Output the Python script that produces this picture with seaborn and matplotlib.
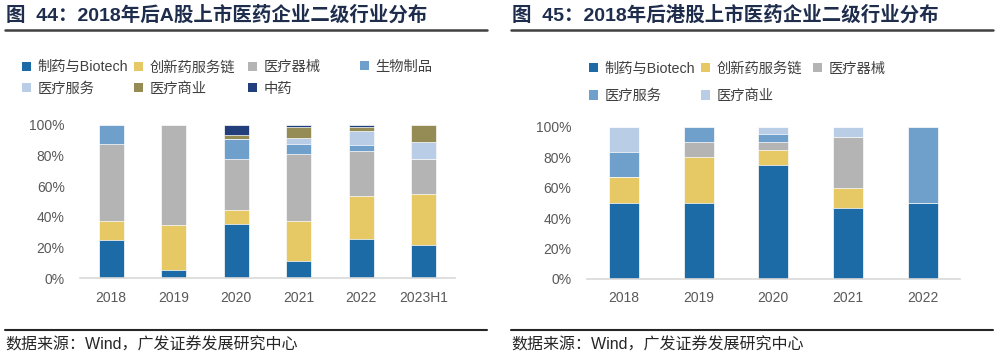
import numpy as np
import pandas as pd
import matplotlib
matplotlib.use("Agg")
import matplotlib.pyplot as plt
from matplotlib.patches import Patch
from matplotlib.lines import Line2D
import seaborn as sns

# ---------------- data ----------------
years_a = ['2018', '2019', '2020', '2021', '2022', '2023H1']
a_biotech = [25.0, 5.3, 35.6, 11.1, 25.3, 21.4]
a_cxo = [12.5, 29.5, 8.9, 26.2, 28.6, 33.8]
a_device = [50.0, 65.2, 33.3, 43.7, 28.9, 22.3]
a_bio = [12.5, 0.0, 13.3, 6.8, 3.9, 0.0]
a_service = [0.0, 0.0, 0.0, 3.7, 9.2, 11.3]
a_commerce = [0.0, 0.0, 2.2, 7.2, 2.6, 11.2]
a_tcm = [0.0, 0.0, 6.7, 1.3, 1.5, 0.0]
a_names = ['制药与Biotech', '创新药服务链', '医疗器械', '生物制品', '医疗服务', '医疗商业', '中药']

years_h = ['2018', '2019', '2020', '2021', '2022']
h_biotech = [50.0, 50.0, 75.0, 46.7, 50.0]
h_cxo = [16.7, 30.0, 10.0, 13.3, 0.0]
h_device = [0.0, 10.0, 5.0, 33.3, 0.0]
h_service = [16.7, 10.0, 5.0, 0.0, 50.0]
h_commerce = [16.6, 0.0, 5.0, 6.7, 0.0]
h_names = ['制药与Biotech', '创新药服务链', '医疗器械', '医疗服务', '医疗商业']

yticks = [0, 20, 40, 60, 80, 100]
ytick_labels = ['0%', '20%', '40%', '60%', '80%', '100%']

title_a = '图  44：2018年后A股上市医药企业二级行业分布'
title_h = '图  45：2018年后港股上市医药企业二级行业分布'
source = '数据来源：Wind，广发证券发展研究中心'

# ---------------- style ----------------
C_BIOTECH = '#1C6AA6'
C_CXO = '#E6C865'
C_DEVICE = '#B4B4B4'
C_BLUE = '#6F9FCB'
C_LIGHT = '#B9CDE6'
C_OLIVE = '#958C55'
C_NAVY = '#233F7B'

a_colors = [C_BIOTECH, C_CXO, C_DEVICE, C_BLUE, C_LIGHT, C_OLIVE, C_NAVY]
h_colors = [C_BIOTECH, C_CXO, C_DEVICE, C_BLUE, C_LIGHT]

sns.set_theme(style='white')
plt.rcParams['font.family'] = ['Liberation Sans', 'Noto Sans CJK SC', 'DejaVu Sans']
plt.rcParams['axes.unicode_minus'] = False

W, H = 1000, 355
fig = plt.figure(figsize=(W / 100, H / 100), dpi=100)


def fx(px):
    return px / W


def fy(py):
    return 1 - py / H


ax1 = fig.add_axes([fx(80), fy(278), fx(375), 153 / H])
ax2 = fig.add_axes([fx(586.7), fy(279), fx(373.3), 152.3 / H])


def draw(ax, cats, series, colors):
    cum = np.cumsum(np.array(series), axis=0)
    for i in reversed(range(len(series))):
        df = pd.DataFrame({'cat': cats, 'val': cum[i]})
        sns.barplot(data=df, x='cat', y='val', color=colors[i], width=0.4,
                    saturation=1, edgecolor='white', linewidth=0.5, ax=ax,
                    order=cats)
    ax.set_ylim(0, 100)
    ax.set_xlim(-0.5, len(cats) - 0.5)
    ax.set_yticks(yticks)
    ax.set_yticklabels(ytick_labels)
    ax.set_xlabel('')
    ax.set_ylabel('')
    ax.tick_params(axis='both', length=0, labelsize=10, colors='#595959')
    ax.tick_params(axis='y', pad=11)
    ax.tick_params(axis='x', pad=9)
    for s in ['top', 'right', 'left']:
        ax.spines[s].set_visible(False)
    ax.spines['bottom'].set_color('#D9D9D9')
    ax.spines['bottom'].set_linewidth(1.2)
    ax.grid(False)


draw(ax1, years_a, [a_biotech, a_cxo, a_device, a_bio, a_service, a_commerce, a_tcm], a_colors)
draw(ax2, years_h, [h_biotech, h_cxo, h_device, h_service, h_commerce], h_colors)


def col_legend(names, colors, x_px, y_center_px, spacing):
    handles = [Patch(facecolor=c, edgecolor='none') for c in colors]
    leg = fig.legend(handles, names, loc='center left',
                     bbox_to_anchor=(fx(x_px), fy(y_center_px)),
                     frameon=False, ncol=1, fontsize=10.3,
                     handlelength=0.65, handleheight=0.65, handletextpad=0.45,
                     borderpad=0, borderaxespad=0, labelspacing=spacing)
    for t in leg.get_texts():
        t.set_color('#404040')
    return leg


# left legend: 4 columns, 2 rows
a_cols = [[0, 4], [1, 5], [2, 6], [3]]
a_xs = [22, 134, 248, 360]
for col, x in zip(a_cols, a_xs):
    names = [a_names[i] for i in col]
    cols = [a_colors[i] for i in col]
    yc = 78 if len(col) == 2 else 66.5
    col_legend(names, cols, x, yc, 0.5)

# right legend: 3 columns, 2 rows
h_cols = [[0, 3], [1, 4], [2]]
h_xs = [589, 701, 813]
for col, x in zip(h_cols, h_xs):
    names = [h_names[i] for i in col]
    cols = [h_colors[i] for i in col]
    yc = 82.5 if len(col) == 2 else 68.5
    col_legend(names, cols, x, yc, 0.95)

# titles and rules
for x0, x1, t in [(6, 487, title_a), (512, 993, title_h)]:
    fig.text(fx(x0), fy(15), t, fontsize=14, fontweight='bold', color='#1F2D4D',
             va='center', ha='left')
    fig.add_artist(Line2D([fx(x0 - 1), fx(x1)], [fy(29.5), fy(29.5)],
                          color='#404040', lw=1.8))
    fig.add_artist(Line2D([fx(x0 - 1), fx(x1)], [fy(329.5), fy(329.5)],
                          color='#262626', lw=1.5))
    fig.text(fx(x0 - 1), fy(345), source, fontsize=11.5, color='#262626',
             va='center', ha='left')

fig.savefig('out.png', dpi=100, facecolor='white')
